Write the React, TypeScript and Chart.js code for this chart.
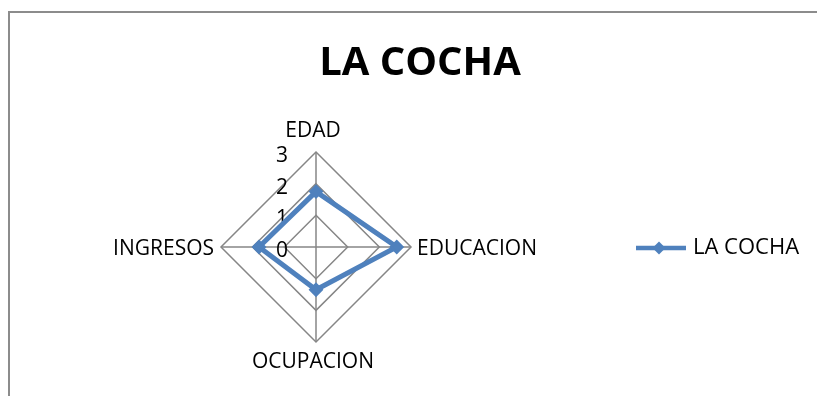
import React, { useEffect, useRef } from 'react';
import { Chart, registerables } from 'chart.js';

Chart.register(...registerables);

const categories = ['EDAD', 'EDUCACION', 'OCUPACION', 'INGRESOS'];
const seriesName = 'LA COCHA';
const laCocha = [1.75, 2.55, 1.35, 1.8];
const tickValues = [0, 1, 2, 3];
const tickLabels = ['0', '1', '2', '3'];
const chartTitle = 'LA COCHA';

const FONT = '"Open Sans", "Liberation Sans", sans-serif';
const BLUE = '#4F81BD';
const GRID = '#868686';

export default function App() {
  const ref = useRef<HTMLCanvasElement>(null);

  useEffect(() => {
    const canvas = ref.current;
    if (!canvas) return;
    const W = 817;
    const legendFontSize = 22;
    const boxW = 42;

    const mctx = document.createElement('canvas').getContext('2d')!;
    mctx.font = `${legendFontSize}px ${FONT}`;
    const textW = mctx.measureText(seriesName).width;

    const centerX = 316;
    const titleCenterX = 420;
    const legendBoxX = 640;
    const legendW = 2 * (titleCenterX - centerX);
    const lp = legendW - 10 - boxW - legendFontSize / 2 - textW;
    const legendLeft = legendBoxX - lp;
    const padL = 2 * centerX - legendLeft;
    const padR = W - (legendLeft + legendW);

    // legend symbol: line with diamond marker
    const sym = document.createElement('canvas');
    sym.width = 50;
    sym.height = 16;
    const sc = sym.getContext('2d')!;
    sc.strokeStyle = BLUE;
    sc.lineWidth = 4.5;
    sc.beginPath();
    sc.moveTo(0, 8);
    sc.lineTo(50, 8);
    sc.stroke();
    sc.fillStyle = BLUE;
    sc.beginPath();
    sc.moveTo(23 - 6.5, 8);
    sc.lineTo(23, 8 - 6.5);
    sc.lineTo(23 + 6.5, 8);
    sc.lineTo(23, 8 + 6.5);
    sc.closePath();
    sc.fill();

    const textPlugin = {
      id: 'radarText',
      afterLayout(chart: any) {
        const lg = chart.legend;
        if (lg) {
          const ca = chart.chartArea;
          lg.top = ca.top + 1;
          lg.bottom = ca.bottom + 1;
        }
      },
      beforeDatasetsDraw(chart: any) {
        const s = chart.scales.r;
        const ctx = chart.ctx;
        const xC = s.xCenter;
        const yC = s.yCenter;
        const r = s.drawingArea;
        ctx.save();
        ctx.fillStyle = '#000000';
        ctx.font = `21px ${FONT}`;
        ctx.textBaseline = 'alphabetic';
        ctx.textAlign = 'right';
        s.ticks.forEach((t: any) => {
          const idx = tickValues.indexOf(t.value);
          if (idx < 0) return;
          const d = s.getDistanceFromCenterForValue(t.value);
          ctx.fillText(tickLabels[idx], xC - 28, yC - d + 10);
        });
        categories.forEach((label, i) => {
          const p = s.getPointPosition(i, r);
          const dx = p.x - xC;
          const dy = p.y - yC;
          if (Math.abs(dx) < 1) {
            ctx.textAlign = 'center';
            if (dy < 0) ctx.fillText(label, p.x - 3, p.y - 15);
            else ctx.fillText(label, p.x - 3, p.y + 26);
          } else if (dx > 0) {
            ctx.textAlign = 'left';
            ctx.fillText(label, p.x + 6, p.y + 7.5);
          } else {
            ctx.textAlign = 'right';
            ctx.fillText(label, p.x - 7, p.y + 7.5);
          }
        });
        ctx.restore();
      },
    };

    const chart = new Chart(canvas, {
      type: 'radar',
      data: {
        labels: categories,
        datasets: [
          {
            label: seriesName,
            data: laCocha,
            borderColor: BLUE,
            backgroundColor: BLUE,
            borderWidth: 5,
            fill: false,
            pointStyle: 'rectRot',
            pointRadius: 6,
            pointBorderWidth: 2,
            pointBackgroundColor: BLUE,
            pointBorderColor: BLUE,
          },
        ],
      },
      options: {
        responsive: false,
        animation: false,
        devicePixelRatio: 1,
        layout: { padding: { left: padL, right: padR, top: 0, bottom: 54 } },
        elements: { line: { tension: 0 } },
        scales: {
          r: {
            min: 0,
            max: 3,
            ticks: { stepSize: 1, display: false },
            grid: { color: GRID, lineWidth: 1.5, circular: false },
            angleLines: { display: true, color: GRID, lineWidth: 1.5 },
            pointLabels: { display: false },
          },
        },
        plugins: {
          title: {
            display: true,
            text: chartTitle,
            color: '#000000',
            font: { family: FONT, size: 40, weight: 'bold', lineHeight: 1.2 },
            padding: { top: 40, bottom: 64 },
          },
          legend: {
            display: true,
            position: 'right',
            labels: {
              usePointStyle: true,
              pointStyle: sym as any,
              pointStyleWidth: boxW,
              boxHeight: legendFontSize,
              padding: lp,
              color: '#000000',
              font: { family: FONT, size: legendFontSize },
            },
          },
          tooltip: { enabled: false },
        },
      },
      plugins: [textPlugin],
    });
    return () => chart.destroy();
  }, []);

  return (
    <div
      style={{
        position: 'fixed',
        left: 0,
        top: 0,
        width: 817,
        height: 396,
        overflow: 'hidden',
        background: '#ffffff',
      }}
    >
      <div
        style={{
          position: 'absolute',
          left: 8,
          top: 11,
          width: 1000,
          height: 1000,
          borderLeft: '2px solid #8c8c8c',
          borderTop: '2px solid #8c8c8c',
        }}
      />
      <canvas
        ref={ref}
        width={817}
        height={396}
        style={{ position: 'absolute', left: 0, top: 0, width: 817, height: 396 }}
      />
    </div>
  );
}
